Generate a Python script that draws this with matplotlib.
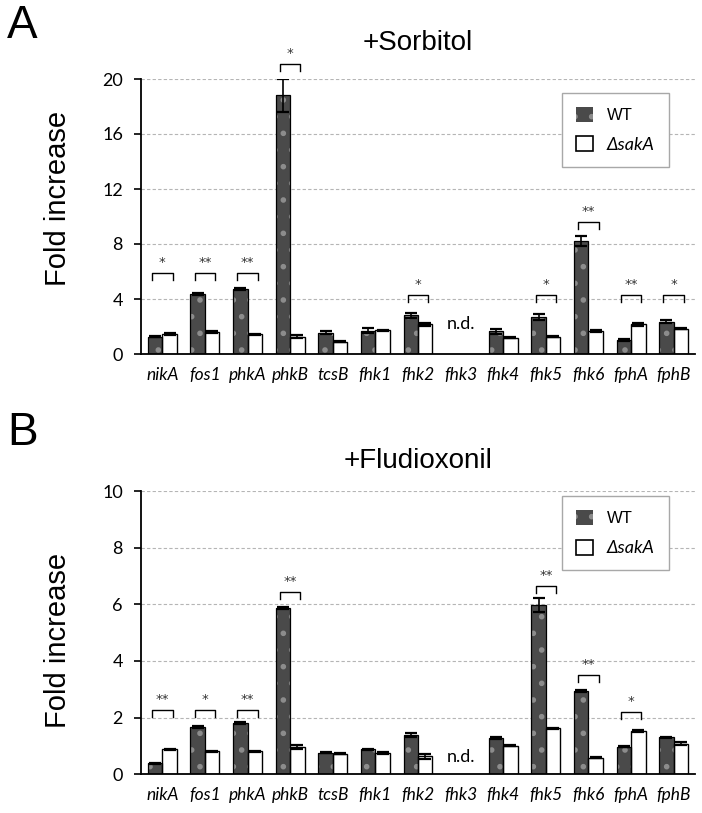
import numpy as np
import matplotlib
matplotlib.use("Agg")
import matplotlib.pyplot as plt
from matplotlib.patches import Patch

# === data ===
genes = ['nikA', 'fos1', 'phkA', 'phkB', 'tcsB', 'fhk1', 'fhk2',
         'fhk3', 'fhk4', 'fhk5', 'fhk6', 'fphA', 'fphB']
nan = np.nan

# +Sorbitol
sorb_wt = [1.25, 4.35, 4.75, 18.8, 1.55, 1.7, 2.8, nan, 1.65, 2.7, 8.2, 1.0, 2.35]
sorb_wt_err = [0.05, 0.08, 0.08, 1.2, 0.1, 0.2, 0.2, nan, 0.2, 0.2, 0.35, 0.06, 0.1]
sorb_dsak = [1.45, 1.6, 1.43, 1.25, 0.9, 1.72, 2.15, nan, 1.18, 1.25, 1.69, 2.15, 1.85]
sorb_dsak_err = [0.05, 0.05, 0.03, 0.1, 0.03, 0.05, 0.1, nan, 0.03, 0.05, 0.08, 0.08, 0.03]
sorb_sig_idx = [0, 1, 2, 3, 6, 9, 10, 11, 12]
sorb_sig_mark = ['*', '**', '**', '*', '*', '*', '**', '**', '*']
sorb_sig_y = [5.87, 5.87, 5.87, 21.1, 4.28, 4.28, 9.6, 4.28, 4.28]

# +Fludioxonil
fludi_wt = [0.39, 1.68, 1.8, 5.88, 0.76, 0.88, 1.4, nan, 1.29, 5.97, 2.93, 0.97, 1.3]
fludi_wt_err = [0.02, 0.03, 0.03, 0.03, 0.02, 0.03, 0.07, nan, 0.03, 0.24, 0.03, 0.02, 0.03]
fludi_dsak = [0.88, 0.82, 0.82, 0.97, 0.72, 0.76, 0.63, nan, 1.01, 1.62, 0.59, 1.54, 1.08]
fludi_dsak_err = [0.02, 0.02, 0.02, 0.07, 0.02, 0.03, 0.1, nan, 0.02, 0.03, 0.02, 0.04, 0.06]
fludi_sig_idx = [0, 1, 2, 3, 9, 10, 11]
fludi_sig_mark = ['**', '*', '**', '**', '**', '**', '*']
fludi_sig_y = [2.27, 2.27, 2.27, 6.42, 6.65, 3.5, 2.21]

nd_index = 7

WT_FACE = '#4a4a4a'
TEX = '#8c8c8c'
plt.rcParams['hatch.linewidth'] = 1.6


def draw_panel(ax, wt, wt_err, dsak, dsak_err, sig_idx, sig_mark, sig_y,
               ymax, ystep, title, title_pad, nd_y, legend_top, ylab_y):
    x = np.arange(len(genes))
    w = 0.34
    wt = np.array(wt)
    dsak = np.array(dsak)
    # WT bars: dark fill with a dotted texture on top
    ax.bar(x - w / 2, wt, w, color=WT_FACE, edgecolor=TEX, linewidth=0,
           hatch='.', zorder=2)
    ax.bar(x - w / 2, wt, w, fill=False, edgecolor='black', linewidth=0.9, zorder=3)
    ax.bar(x + w / 2, dsak, w, color='white', edgecolor='black', linewidth=1.0, zorder=2)
    ax.errorbar(x - w / 2, wt, yerr=wt_err, fmt='none', ecolor='black',
                elinewidth=1.2, capsize=4.5, capthick=1.6, zorder=4)
    ax.errorbar(x + w / 2, dsak, yerr=dsak_err, fmt='none', ecolor='black',
                elinewidth=1.2, capsize=4.5, capthick=1.6, zorder=4)

    # significance brackets
    ppu = ax.get_window_extent().height / ymax  # pixels per unit
    leg = 7 / ppu
    for i, m, y in zip(sig_idx, sig_mark, sig_y):
        ax.plot([i - 0.24, i - 0.24, i + 0.24, i + 0.24], [y - leg, y, y, y - leg],
                color='black', lw=1.0, clip_on=False, zorder=5)
        ax.text(i, y + 4 / ppu, m, ha='center', va='bottom', fontsize=9.5,
                color='#333333', clip_on=False)

    ax.text(nd_index, nd_y, 'n.d.', ha='center', va='center', fontsize=13,
            family='Lato')

    ax.set_xlim(-0.5, len(genes) - 0.5)
    ax.set_ylim(0, ymax)
    ax.set_yticks(np.arange(0, ymax + 0.01, ystep))
    ax.set_xticks(x)
    ax.set_xticklabels(genes, fontsize=12.5, style='italic', family='Lato')
    ax.tick_params(axis='x', length=0, pad=9)
    ax.tick_params(axis='y', length=5, width=1.2, labelsize=13, pad=8)
    for lab in ax.get_yticklabels():
        lab.set_family('Lato')
    ax.spines['top'].set_visible(False)
    ax.spines['right'].set_visible(False)
    ax.spines['left'].set_linewidth(1.3)
    ax.spines['bottom'].set_linewidth(1.3)
    ax.yaxis.grid(True, linestyle=(0, (3, 2)), color='#b5b5b5', lw=0.8)
    ax.set_axisbelow(True)
    ax.set_ylabel('Fold increase', fontsize=21, family='Liberation Sans')
    ax.yaxis.set_label_coords(-0.125, ylab_y)
    ax.set_title(title, fontsize=20, family='Liberation Sans', pad=title_pad)

    handles = [Patch(facecolor=WT_FACE, edgecolor=TEX, hatch='.', linewidth=0),
               Patch(facecolor='white', edgecolor='black', linewidth=1.2)]
    lg = ax.legend(handles, ['WT', '\u0394sakA'], loc='upper left',
                   bbox_to_anchor=(0.76, legend_top), fancybox=False,
                   edgecolor='#a8a8a8', framealpha=1, fontsize=12,
                   handlelength=1.0, handleheight=1.0, labelspacing=0.8,
                   borderpad=0.85, handletextpad=0.85, borderaxespad=0)
    lg.get_frame().set_linewidth(1.0)
    lg.get_texts()[0].set_family('Liberation Sans')
    lg.get_texts()[1].set_family('Lato')
    lg.get_texts()[1].set_style('italic')
    lg.get_texts()[1].set_fontsize(13)


fig = plt.figure(figsize=(7.02, 8.13), dpi=100)
axA = fig.add_axes([141 / 702, (813 - 354) / 813, 554 / 702, 275 / 813])
axB = fig.add_axes([141 / 702, (813 - 774.3) / 813, 554 / 702, 283.3 / 813])

draw_panel(axA, sorb_wt, sorb_wt_err, sorb_dsak, sorb_dsak_err,
           sorb_sig_idx, sorb_sig_mark, sorb_sig_y, 20, 4, '+Sorbitol', 21,
           2.2, 0.95, 0.567)
draw_panel(axB, fludi_wt, fludi_wt_err, fludi_dsak, fludi_dsak_err,
           fludi_sig_idx, fludi_sig_mark, fludi_sig_y, 10, 2, '+Fludioxonil', 16.5,
           0.6, 0.982, 0.474)

fig.text(7 / 702, 1 - 38 / 813, 'A', fontsize=33, family='Liberation Sans', va='baseline')
fig.text(7 / 702, 1 - 445 / 813, 'B', fontsize=33, family='Liberation Sans', va='baseline')

fig.savefig('out.png', dpi=100)
